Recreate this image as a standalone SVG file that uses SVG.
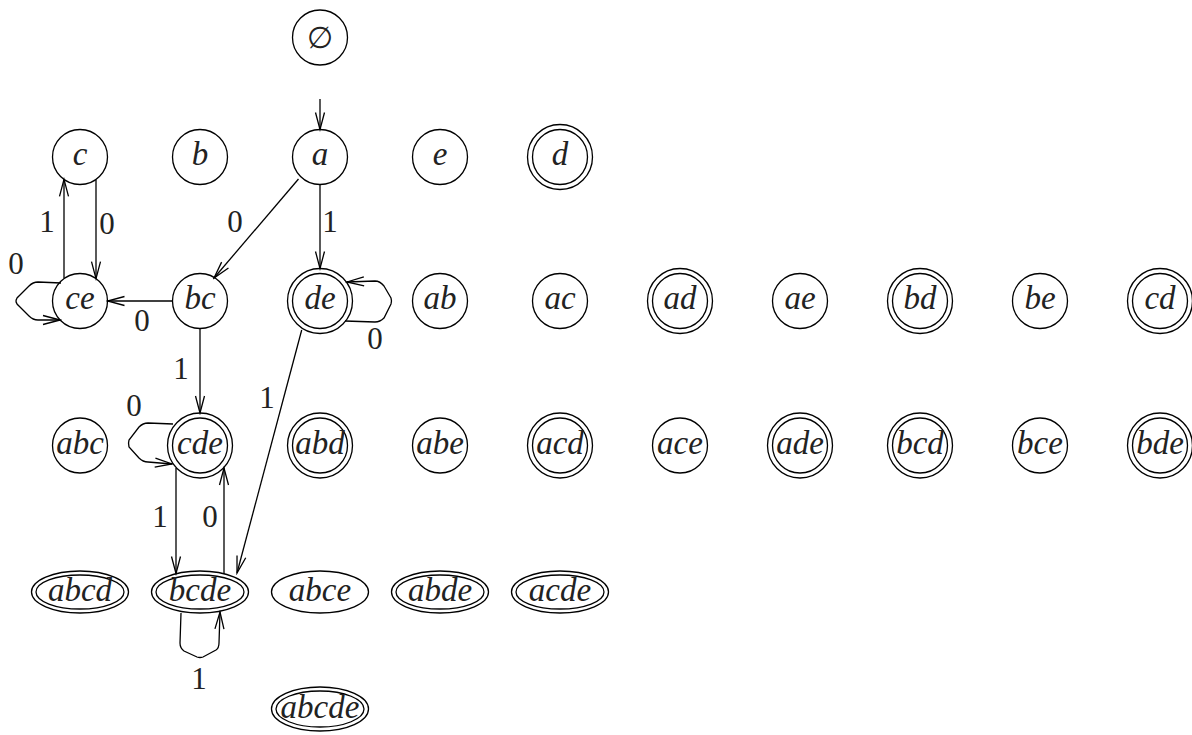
<svg xmlns="http://www.w3.org/2000/svg" width="1192" height="735" viewBox="0 0 1192 735">
<style>
.s{fill:none;stroke:#000;stroke-width:1.3}
.n{font-family:"Liberation Serif",serif;font-style:italic;font-size:33px;text-anchor:middle;fill:#222}
.l{font-family:"Liberation Serif",serif;font-size:31px;text-anchor:middle;fill:#222}
.e{fill:none;stroke:#000;stroke-width:1.3;marker-end:url(#ah)}
</style>
<defs>
<marker id="ah" viewBox="-18 -6 20 12" refX="0" refY="0" markerWidth="20" markerHeight="12" markerUnits="userSpaceOnUse" orient="auto">
<path d="M-17,-4.5 L0,0 L-17,4.5" fill="none" stroke="#000" stroke-width="1.3"/>
</marker>
</defs>
<rect width="1192" height="735" fill="#fff"/>
<g id="edges">
<path class="e" d="M320,99 L320,129.5"/>
<path class="e" d="M64,278.6 L64,179.4"/>
<path class="e" d="M96,179.4 L96,278.6"/>
<path class="e" d="M61,283 L38,282 Q33,282 29,286 L17,298 Q15,301 17,304 L29,316 Q33,320 38,320 L60,320"/>
<path class="e" d="M172.5,301 L107.5,301"/>
<path class="e" d="M298.5,179 L214,278"/>
<path class="e" d="M320,184.5 L320,268.5"/>
<path class="e" d="M345,321 L375,322 Q380,322 384,318 L391,304 Q392,301 391,298 L384,286 Q380,281 375,281 L347,282"/>
<path class="e" d="M200,328.5 L200,413"/>
<path class="e" d="M301.7,330 L237,573"/>
<path class="e" d="M173,424 L148,423 Q143,423 139,427 L129,440 Q128,443 129,447 L139,458 Q143,462 148,462 L172,464"/>
<path class="e" d="M176,468 L176,573.5"/>
<path class="e" d="M224,574 L224,468"/>
<path class="e" d="M181,613 L180,643 Q180,648 184,651 L197,657 Q200,658 203,657 L216,650 Q219,648 219,643 L220,612"/>
<text class="l" x="47" y="232">1</text>
<text class="l" x="107" y="234">0</text>
<text class="l" x="16" y="274">0</text>
<text class="l" x="235" y="232">0</text>
<text class="l" x="330" y="232">1</text>
<text class="l" x="142" y="331">0</text>
<text class="l" x="375" y="349">0</text>
<text class="l" x="181" y="379">1</text>
<text class="l" x="267" y="408">1</text>
<text class="l" x="134" y="416">0</text>
<text class="l" x="160" y="527">1</text>
<text class="l" x="210" y="527">0</text>
<text class="l" x="199" y="689">1</text>
</g>
<g id="n-empty"><circle class="s" cx="320" cy="37.5" r="27.5"/><text x="320" y="48" style="font-family:'DejaVu Serif',serif;font-size:30px;text-anchor:middle;fill:#222">∅</text></g>
<g id="n-c"><circle class="s" cx="80" cy="157" r="27.5"/><text class="n" x="80" y="165">c</text></g>
<g id="n-b"><circle class="s" cx="200" cy="157" r="27.5"/><text class="n" x="200" y="165">b</text></g>
<g id="n-a"><circle class="s" cx="320" cy="157" r="27.5"/><text class="n" x="320" y="165">a</text></g>
<g id="n-e"><circle class="s" cx="440" cy="157" r="27.5"/><text class="n" x="440" y="165">e</text></g>
<g id="n-d"><circle class="s" cx="560" cy="157" r="27.5"/><circle class="s" cx="560" cy="157" r="32.5"/><text class="n" x="560" y="165">d</text></g>
<g id="n-ce"><circle class="s" cx="80" cy="301" r="27.5"/><text class="n" x="80" y="309">ce</text></g>
<g id="n-bc"><circle class="s" cx="200" cy="301" r="27.5"/><text class="n" x="200" y="309">bc</text></g>
<g id="n-de"><circle class="s" cx="320" cy="301" r="27.5"/><circle class="s" cx="320" cy="301" r="32.5"/><text class="n" x="320" y="309">de</text></g>
<g id="n-ab"><circle class="s" cx="440" cy="301" r="27.5"/><text class="n" x="440" y="309">ab</text></g>
<g id="n-ac"><circle class="s" cx="560" cy="301" r="27.5"/><text class="n" x="560" y="309">ac</text></g>
<g id="n-ad"><circle class="s" cx="680" cy="301" r="27.5"/><circle class="s" cx="680" cy="301" r="32.5"/><text class="n" x="680" y="309">ad</text></g>
<g id="n-ae"><circle class="s" cx="800" cy="301" r="27.5"/><text class="n" x="800" y="309">ae</text></g>
<g id="n-bd"><circle class="s" cx="920" cy="301" r="27.5"/><circle class="s" cx="920" cy="301" r="32.5"/><text class="n" x="920" y="309">bd</text></g>
<g id="n-be"><circle class="s" cx="1040" cy="301" r="27.5"/><text class="n" x="1040" y="309">be</text></g>
<g id="n-cd"><circle class="s" cx="1160" cy="301" r="27.5"/><circle class="s" cx="1160" cy="301" r="32.5"/><text class="n" x="1160" y="309">cd</text></g>
<g id="n-abc"><circle class="s" cx="80" cy="445.5" r="27.5"/><text class="n" x="80" y="454">abc</text></g>
<g id="n-cde"><circle class="s" cx="200" cy="445.5" r="27.5"/><circle class="s" cx="200" cy="445.5" r="32.5"/><text class="n" x="200" y="454">cde</text></g>
<g id="n-abd"><circle class="s" cx="320" cy="445.5" r="27.5"/><circle class="s" cx="320" cy="445.5" r="32.5"/><text class="n" x="320" y="454">abd</text></g>
<g id="n-abe"><circle class="s" cx="440" cy="445.5" r="27.5"/><text class="n" x="440" y="454">abe</text></g>
<g id="n-acd"><circle class="s" cx="560" cy="445.5" r="27.5"/><circle class="s" cx="560" cy="445.5" r="32.5"/><text class="n" x="560" y="454">acd</text></g>
<g id="n-ace"><circle class="s" cx="680" cy="445.5" r="27.5"/><text class="n" x="680" y="454">ace</text></g>
<g id="n-ade"><circle class="s" cx="800" cy="445.5" r="27.5"/><circle class="s" cx="800" cy="445.5" r="32.5"/><text class="n" x="800" y="454">ade</text></g>
<g id="n-bcd"><circle class="s" cx="920" cy="445.5" r="27.5"/><circle class="s" cx="920" cy="445.5" r="32.5"/><text class="n" x="920" y="454">bcd</text></g>
<g id="n-bce"><circle class="s" cx="1040" cy="445.5" r="27.5"/><text class="n" x="1040" y="454">bce</text></g>
<g id="n-bde"><circle class="s" cx="1160" cy="445.5" r="27.5"/><circle class="s" cx="1160" cy="445.5" r="32.5"/><text class="n" x="1160" y="454">bde</text></g>
<g id="n-abcd"><ellipse class="s" cx="80" cy="592" rx="44" ry="17"/><ellipse class="s" cx="80" cy="592" rx="48.5" ry="21"/><text class="n" x="80" y="601">abcd</text></g>
<g id="n-bcde"><ellipse class="s" cx="200" cy="592" rx="44" ry="17"/><ellipse class="s" cx="200" cy="592" rx="48.5" ry="21"/><text class="n" x="200" y="601">bcde</text></g>
<g id="n-abce"><ellipse class="s" cx="320" cy="592" rx="48.5" ry="21"/><text class="n" x="320" y="601">abce</text></g>
<g id="n-abde"><ellipse class="s" cx="440" cy="592" rx="44" ry="17"/><ellipse class="s" cx="440" cy="592" rx="48.5" ry="21"/><text class="n" x="440" y="601">abde</text></g>
<g id="n-acde"><ellipse class="s" cx="560" cy="592" rx="44" ry="17"/><ellipse class="s" cx="560" cy="592" rx="48.5" ry="21"/><text class="n" x="560" y="601">acde</text></g>
<g id="n-abcde"><ellipse class="s" cx="320" cy="709" rx="44" ry="18"/><ellipse class="s" cx="320" cy="709" rx="48.5" ry="22"/><text class="n" x="320" y="718">abcde</text></g>
</svg>
